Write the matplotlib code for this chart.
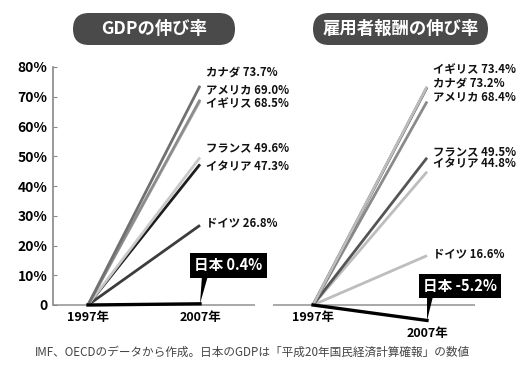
import matplotlib
matplotlib.use("Agg")
import matplotlib.pyplot as plt
from matplotlib.patches import FancyBboxPatch, Polygon

plt.rcParams['font.family'] = ['Noto Sans CJK JP', 'DejaVu Sans']

# data
years = [1997, 2007]
gdp_names = ["カナダ", "アメリカ", "イギリス", "フランス", "イタリア", "ドイツ"]
gdp_vals = [73.7, 69.0, 68.5, 49.6, 47.3, 26.8]
gdp_japan = 0.4
pay_names = ["イギリス", "カナダ", "アメリカ", "フランス", "イタリア", "ドイツ"]
pay_vals = [73.4, 73.2, 68.4, 49.5, 44.8, 16.6]
pay_japan = -5.2
yticks = [0, 10, 20, 30, 40, 50, 60, 70, 80]
ytick_labels = ["0", "10%", "20%", "30%", "40%", "50%", "60%", "70%", "80%"]

# styles / layout
gdp_colors = ["#707070", "#8c8c8c", "#c8c8c8", "#c8c8c8", "#1e1e1e", "#3c3c3c"]
pay_colors = ["#bdbdbd", "#2e2e2e", "#8a8a8a", "#555555", "#bdbdbd", "#bdbdbd"]
gdp_label_y = [78.3, 72.3, 67.6, 52.8, 46.4, 27.6]
pay_label_y = [79.0, 74.6, 69.9, 51.6, 47.4, 17.1]

W, H = 518, 367
fig = plt.figure(figsize=(W / 100, H / 100), dpi=100)
fig.patch.set_facecolor("white")

ylo, yhi = -10, 85
ppu = 2.975
bottom_px = 305 + (-ylo) * ppu
top_px = 305 - yhi * ppu


def make_ax(x0, x1, xlim):
    ax = fig.add_axes([x0 / W, (H - bottom_px) / H, (x1 - x0) / W,
                       (bottom_px - top_px) / H])
    ax.set_xlim(*xlim)
    ax.set_ylim(ylo, yhi)
    for s in ax.spines.values():
        s.set_visible(False)
    ax.set_xticks([])
    ax.set_yticks([])
    ax.patch.set_alpha(0)
    ax.axhline(0, color="#999999", lw=1.2, zorder=1)
    return ax


axl = make_ax(53, 255, (1993.875, 2011.91))
axr = make_ax(273, 475, (1993.49, 2011.21))

# left y axis
axl.spines['left'].set_visible(True)
axl.spines['left'].set_bounds(0, 80)
axl.spines['left'].set_color("#888888")
axl.spines['left'].set_linewidth(1.2)
axl.set_yticks(yticks)
axl.set_yticklabels(ytick_labels, fontsize=10, fontweight="bold")
axl.tick_params(axis='y', direction='in', length=3, color="#888888", pad=4)


def draw_panel(ax, names, vals, colors, label_y, japan, box_xy, tip_base):
    for v, c in zip(vals[::-1], colors[::-1]):
        ax.plot(years, [0, v], color=c, lw=2.0, solid_capstyle='butt', zorder=2)
    ax.plot(years, [0, japan], color="black", lw=2.4, zorder=3)
    for n, v, ly in zip(names, vals, label_y):
        ax.text(2007.5, ly, "%s %.1f%%" % (n, v), fontsize=8.2,
                fontweight="bold", va="center", ha="left", color="#111111")
    bx, by = box_xy
    ax.text(bx, by, "日本 %.1f%%" % japan, fontsize=10.5, fontweight="bold",
            color="white", ha="center", va="center", zorder=5,
            bbox=dict(boxstyle="square,pad=0.3", fc="black", ec="none"))
    b0, b1, byb = tip_base
    ax.add_patch(Polygon([(b0, byb), (b1, byb), (2007, japan)], closed=True,
                         fc="black", ec="none", zorder=4))


draw_panel(axl, gdp_names, gdp_vals, gdp_colors, gdp_label_y, gdp_japan,
           (2009.5, 13.4), (2007.2, 2007.8, 11.0))
draw_panel(axr, pay_names, pay_vals, pay_colors, pay_label_y, pay_japan,
           (2009.9, 6.4), (2007.0, 2007.6, 4.0))

# year labels
axl.text(1997, -4.2, "1997年", fontsize=9, fontweight="bold", ha="center", va="center")
axl.text(2007, -4.2, "2007年", fontsize=9, fontweight="bold", ha="center", va="center")
axr.text(1997, -4.2, "1997年", fontsize=9, fontweight="bold", ha="center", va="center")
axr.text(2007, -9.5, "2007年", fontsize=9, fontweight="bold", ha="center", va="center")


# titles (rounded dark boxes)
def title_box(x0, x1, text):
    y0, y1 = 13, 45
    p = FancyBboxPatch((x0 / 100, (H - y1) / 100), (x1 - x0) / 100, (y1 - y0) / 100,
                       boxstyle="round,pad=0,rounding_size=0.16",
                       transform=fig.dpi_scale_trans, fc="#4a4a4a", ec="none")
    fig.patches.append(p)
    fig.text((x0 + x1) / 2 / W, 1 - (y0 + y1) / 2 / H, text, color="white",
             fontsize=12.5, fontweight="bold", ha="center", va="center")


title_box(73, 235, "GDPの伸び率")
title_box(313, 488, "雇用者報酬の伸び率")

fig.text(35 / W, 1 - 352 / H,
         "IMF、OECDのデータから作成。日本のGDPは「平成20年国民経済計算確報」の数値",
         fontsize=8.4, color="#444444", ha="left", va="center")

fig.savefig("out.png", dpi=100, facecolor="white")
